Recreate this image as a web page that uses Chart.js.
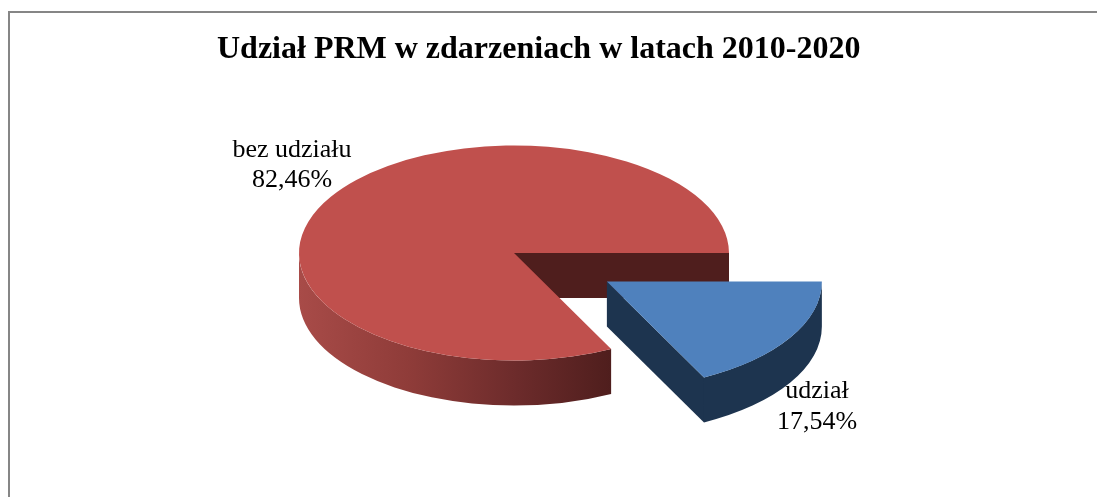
<!DOCTYPE html>
<html lang="pl">
<head>
<meta charset="utf-8">
<title>Udział PRM</title>
<style>
html,body{margin:0;padding:0;background:#fff;overflow:hidden}
canvas{display:block}
</style>
<script src="https://cdn.jsdelivr.net/npm/chart.js@4"></script>
</head>
<body>
<canvas id="c" width="1097" height="497"></canvas>
<script>
const chartTitle = 'Udział PRM w zdarzeniach w latach 2010-2020';
const categories = ['udział', 'bez udziału'];
const shares = [17.54, 82.46];
const topColors = ['#4f81bd', '#c0504d'];
const wallColors = ['#1d344f', '#4f1e1d'];

const SERIF = '"Liberation Serif", serif';
const TILT = 0.5;       // vertical squash of the pie plane
const DEPTH = 45;       // height of the 3D wall
const EXPLODE = 109;    // how far the first slice is pulled out
const PIE_AREA_TRIM = 56; // chart area is narrower than the title box

const FRAME_COLOR = '#868686';
const labelBoxes = [{x: 817, y: 391, gap: 31}, {x: 292, y: 150, gap: 30}];

function sliceGeom(el, i) {
  const p = el.getProps(['x', 'y', 'startAngle', 'endAngle', 'outerRadius'], true);
  const mid = (p.startAngle + p.endAngle) / 2;
  const e = i === 0 ? EXPLODE : 0;
  return {
    start: p.startAngle, end: p.endAngle, r: p.outerRadius,
    cx: p.x + Math.cos(mid) * e,
    cy: p.y + Math.sin(mid) * e * TILT
  };
}

function rimPoint(g, a) {
  return [g.cx + Math.cos(a) * g.r, g.cy + Math.sin(a) * g.r * TILT];
}

function cutFace(ctx, g, a, color) {
  const [x, y] = rimPoint(g, a);
  ctx.fillStyle = color;
  ctx.beginPath();
  ctx.moveTo(g.cx, g.cy);
  ctx.lineTo(x, y);
  ctx.lineTo(x, y + DEPTH);
  ctx.lineTo(g.cx, g.cy + DEPTH);
  ctx.closePath();
  ctx.fill();
}

function outerWall(ctx, g, fill) {
  const a0 = Math.max(g.start, 0), a1 = Math.min(g.end, Math.PI);
  if (a1 <= a0) return;
  const ry = g.r * TILT;
  ctx.fillStyle = fill;
  ctx.beginPath();
  ctx.ellipse(g.cx, g.cy, g.r, ry, 0, a0, a1, false);
  ctx.ellipse(g.cx, g.cy + DEPTH, g.r, ry, 0, a1, a0, true);
  ctx.closePath();
  ctx.fill();
}

const pie3d = {
  id: 'pie3d',
  afterLayout(chart) {
    chart.chartArea.right -= PIE_AREA_TRIM;
    chart.chartArea.width -= PIE_AREA_TRIM;
  },
  beforeDraw(chart) {
    const ctx = chart.ctx;
    ctx.save();
    ctx.fillStyle = '#fff';
    ctx.fillRect(0, 0, chart.width, chart.height);
    ctx.strokeStyle = FRAME_COLOR;
    ctx.lineWidth = 2;
    ctx.beginPath();
    ctx.moveTo(9, chart.height);
    ctx.lineTo(9, 12);
    ctx.lineTo(chart.width, 12);
    ctx.stroke();
    ctx.restore();
  },
  beforeDatasetDraw(chart, args) {
    const ctx = chart.ctx;
    const arcs = args.meta.data;
    for (let i = arcs.length - 1; i >= 0; i--) {
      const g = sliceGeom(arcs[i], i);
      const wall = wallColors[i];
      if (Math.cos(g.start) < 0) cutFace(ctx, g, g.start, wall);
      if (Math.cos(g.end) > 0) cutFace(ctx, g, g.end, wall);
      let fill = wall;
      if (i === 1) {
        const a = rimPoint(g, Math.PI)[0];
        const b = rimPoint(g, g.start)[0];
        fill = ctx.createLinearGradient(a, 0, b, 0);
        fill.addColorStop(0, '#a84b48');
        fill.addColorStop(0.35, '#8f3c39');
        fill.addColorStop(0.7, '#6c2b2b');
        fill.addColorStop(1, wall);
      }
      outerWall(ctx, g, fill);
      const p = arcs[i].getProps(['x', 'y'], true);
      ctx.save();
      ctx.translate(g.cx, g.cy);
      ctx.scale(1, TILT);
      ctx.translate(-p.x, -p.y);
      arcs[i].draw(ctx);
      ctx.restore();
    }
    return false;
  },
  afterDatasetsDraw(chart) {
    const ctx = chart.ctx;
    ctx.save();
    ctx.fillStyle = '#000';
    ctx.font = '26px ' + SERIF;
    ctx.textAlign = 'center';
    ctx.textBaseline = 'middle';
    categories.forEach((name, i) => {
      const b = labelBoxes[i];
      ctx.fillText(name, b.x, b.y);
      ctx.fillText(shares[i].toFixed(2).replace('.', ',') + '%', b.x, b.y + b.gap);
    });
    ctx.restore();
  }
};

new Chart(document.getElementById('c'), {
  type: 'pie',
  data: {
    labels: categories,
    datasets: [{
      data: shares,
      backgroundColor: topColors,
      borderWidth: 0,
      hoverOffset: 0
    }]
  },
  options: {
    responsive: false,
    animation: false,
    rotation: 90,
    radius: 215,
    layout: {padding: {left: 217, right: 230, top: 0, bottom: 60.4}},
    events: [],
    plugins: {
      legend: {display: false},
      tooltip: {enabled: false},
      title: {
        display: true,
        text: chartTitle,
        align: 'start',
        color: '#000',
        font: {family: SERIF, size: 32, weight: 'bold', lineHeight: 1.2},
        padding: {top: 31, bottom: 0}
      }
    }
  },
  plugins: [pie3d]
});
</script>
</body>
</html>
